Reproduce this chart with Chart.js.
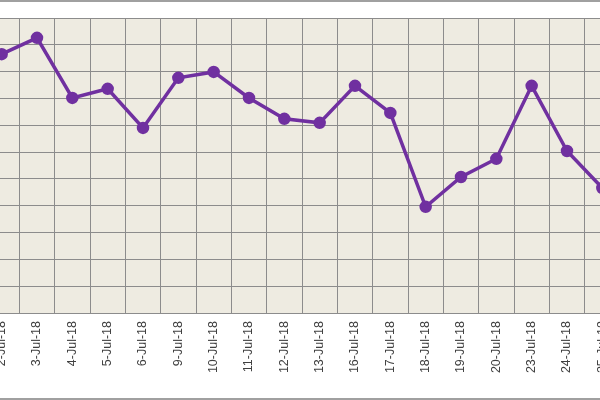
<!DOCTYPE html>
<html><head><meta charset="utf-8">
<script src="https://cdn.jsdelivr.net/npm/chart.js@4"></script>
<style>
html,body{margin:0;padding:0;background:#fff;overflow:hidden;width:600px;height:400px}
#frame{position:absolute;left:0;top:0;width:600px;height:396px;border-top:2px solid #a0a0a0;border-bottom:2px solid #a0a0a0;box-sizing:content-box}
#c{position:absolute;left:-24px;top:0}
</style></head><body>
<div id="frame"></div>
<canvas id="c" width="652" height="400"></canvas>
<script>
const categories=['2-Jul-18','3-Jul-18','4-Jul-18','5-Jul-18','6-Jul-18','9-Jul-18','10-Jul-18','11-Jul-18','12-Jul-18','13-Jul-18','16-Jul-18','17-Jul-18','18-Jul-18','19-Jul-18','20-Jul-18','23-Jul-18','24-Jul-18','25-Jul-18'];
const values=[9.65,10.26,8.02,8.36,6.9,8.77,8.99,8.02,7.24,7.09,8.47,7.46,3.96,5.07,5.75,8.47,6.04,4.66];
const bg={id:'bg',beforeDraw(c){const a=c.chartArea,x=c.ctx;x.save();x.fillStyle='#eeebe1';x.fillRect(a.left,a.top,a.right-a.left,a.bottom-a.top);x.restore();}};
new Chart(document.getElementById('c'),{type:'line',
data:{labels:categories,datasets:[{data:values,borderColor:'#7030a0',backgroundColor:'#7030a0',borderWidth:3.5,pointRadius:4.5,pointHoverRadius:4.5,tension:0}]},
options:{responsive:false,devicePixelRatio:1,animation:false,
layout:{padding:{top:18,left:0,right:0,bottom:0}},
plugins:{legend:{display:false},tooltip:{enabled:false}},
scales:{
x:{offset:true,grid:{offset:true,color:'#8c8c8c',lineWidth:1,drawTicks:false},border:{color:'#8c8c8c'},
ticks:{minRotation:90,maxRotation:90,autoSkip:false,padding:8,color:'#404040',font:{family:'Liberation Sans, Arial',size:12.5}},
afterFit(s){s.height=87;s.paddingLeft=0;s.paddingRight=0;}},
y:{min:0,max:11,ticks:{display:false,stepSize:1},grid:{color:'#8c8c8c',drawTicks:false},border:{display:false},afterFit(s){s.width=0;}}
}},plugins:[bg]});
</script></body></html>
